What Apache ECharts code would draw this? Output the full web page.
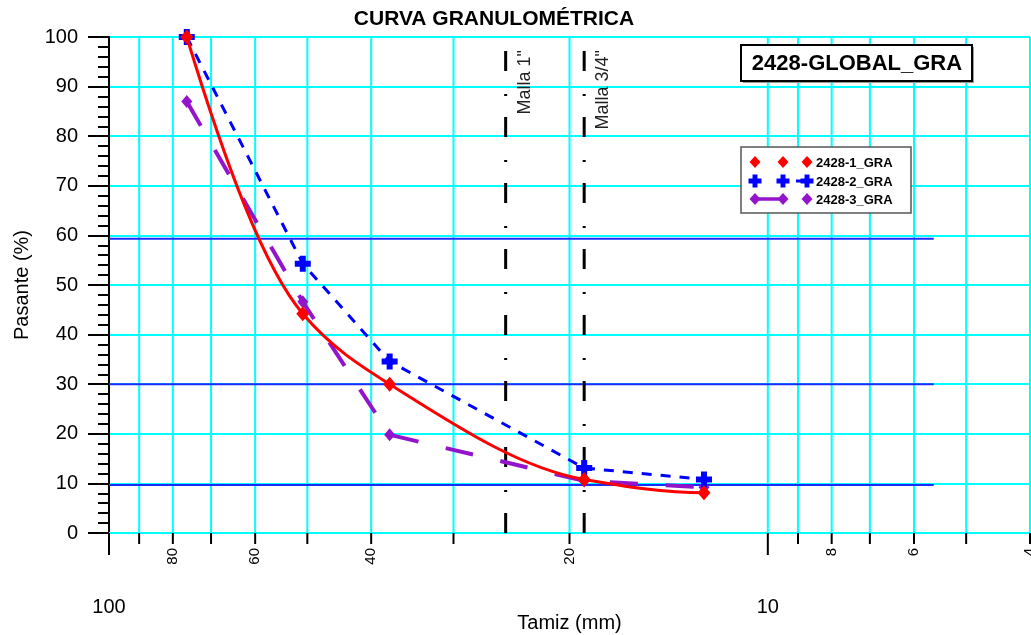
<!DOCTYPE html>
<html>
<head>
<meta charset="utf-8">
<script src="https://cdn.jsdelivr.net/npm/echarts@6/dist/echarts.min.js"></script>
<style>
  html, body { margin: 0; padding: 0; background: #ffffff; }
  #chart { width: 1031px; height: 635px; }
</style>
</head>
<body>
<div id="chart"></div>
<script>
// Sieve openings (mm) and percent passing for each sample
const sieveSizes = [76.2, 50.8, 37.5, 19.0, 12.5];
const passing1 = [100, 44.2, 30.0, 10.8, 8.1];
const passing2 = [100, 54.3, 34.6, 13.1, 10.8];
const passing3 = [87.0, 46.6, 19.8, 10.5, 9.2];
const seriesNames = ['2428-1_GRA', '2428-2_GRA', '2428-3_GRA'];

// Log axis decorations (mm)
const xGridValues = [90, 80, 70, 60, 50, 40, 30, 20, 10, 9, 8, 7, 6, 5, 4];
const xMajorTicks = [100, 10];
const xMinorTicks = [90, 80, 70, 60, 50, 40, 30, 20, 9, 8, 7, 6, 5, 4];
const xRotatedLabels = [80, 60, 40, 20, 8, 6, 4];
const xMajorLabels = [100, 10];

// Reference meshes (mm) and their captions
const meshSizes = [25.0, 19.0];
const meshLabels = ['Malla 1"', 'Malla 3/4"'];

// Horizontal reference levels (% passing) and their x span (mm)
const refLevels = [59.3, 30.0, 9.7];
const refSpan = [100, 5.6];

const FONT = '"Liberation Sans", Arial, sans-serif';
const RED = '#ff0000';
const BLUE = '#0000ff';
const PURPLE = '#9414cc';
const CYAN = '#00ffff';
const PLUS = 'path://M5,0H11V5H16V11H11V16H5V11H0V5H5Z';

const chart = echarts.init(document.getElementById('chart'), null, { renderer: 'canvas' });

function pairs(xs, ys) { return xs.map((x, i) => [x, ys[i]]); }
function onAxis(vals) { return vals.map(v => [v, 0]); }

// Shape-preserving piecewise cubic (PCHIP) through pixel points
function pchipPath(pts) {
  const n = pts.length;
  const h = [], s = [];
  for (let i = 0; i < n - 1; i++) {
    h.push(pts[i + 1][0] - pts[i][0]);
    s.push((pts[i + 1][1] - pts[i][1]) / h[i]);
  }
  const d = new Array(n).fill(0);
  for (let i = 1; i < n - 1; i++) {
    if (s[i - 1] * s[i] > 0) {
      const w1 = 2 * h[i] + h[i - 1], w2 = h[i] + 2 * h[i - 1];
      d[i] = (w1 + w2) / (w1 / s[i - 1] + w2 / s[i]);
    }
  }
  function endSlope(h0, h1, s0, s1) {
    let e = ((2 * h0 + h1) * s0 - h0 * s1) / (h0 + h1);
    if (Math.sign(e) !== Math.sign(s0)) e = 0;
    else if (Math.sign(s0) !== Math.sign(s1) && Math.abs(e) > Math.abs(3 * s0)) e = 3 * s0;
    return e;
  }
  d[0] = endSlope(h[0], h[1], s[0], s[1]);
  d[n - 1] = endSlope(h[n - 2], h[n - 3], s[n - 2], s[n - 3]);
  let p = 'M' + pts[0][0] + ',' + pts[0][1];
  for (let i = 0; i < n - 1; i++) {
    const dx = h[i] / 3;
    p += 'C' + (pts[i][0] + dx) + ',' + (pts[i][1] + dx * d[i]) + ',' +
         (pts[i + 1][0] - dx) + ',' + (pts[i + 1][1] - dx * d[i + 1]) + ',' +
         pts[i + 1][0] + ',' + pts[i + 1][1];
  }
  return p;
}
function curveRenderer(xs, ys, style) {
  return function (params, api) {
    if (params.dataIndex !== 0) return null;
    const pts = xs.map((x, i) => api.coord([x, ys[i]]));
    return { type: 'path', shape: { pathData: pchipPath(pts) },
             style: Object.assign({ fill: 'none' }, style) };
  };
}

function vGrid(params, api) {
  const v = api.value(0);
  const b = api.coord([v, 0]);
  const t = api.coord([v, 100]);
  return { type: 'line', shape: { x1: b[0], y1: b[1], x2: t[0], y2: t[1] },
           style: { stroke: CYAN, lineWidth: 2 } };
}
function tickRenderer(len) {
  return function (params, api) {
    const p = api.coord([api.value(0), 0]);
    return { type: 'line', shape: { x1: p[0], y1: p[1], x2: p[0], y2: p[1] + len },
             style: { stroke: '#000', lineWidth: 2 } };
  };
}
function rotatedLabel(params, api) {
  const v = api.value(0);
  const p = api.coord([v, 0]);
  return { type: 'text', x: p[0], y: p[1] + 15, rotation: Math.PI / 2,
           style: { text: String(v), font: '15px ' + FONT, fill: '#000', align: 'right', verticalAlign: 'middle' } };
}
function majorLabel(params, api) {
  const v = api.value(0);
  const p = api.coord([v, 0]);
  return { type: 'text', x: p[0], y: p[1] + 74,
           style: { text: String(v), font: '20px ' + FONT, fill: '#000', align: 'center', verticalAlign: 'middle' } };
}
function meshLine(params, api) {
  const v = api.value(0);
  const b = api.coord([v, 0]);
  const t = api.coord([v, 100]);
  return { type: 'group', children: [
    { type: 'line', shape: { x1: b[0], y1: b[1], x2: t[0], y2: t[1] },
      style: { stroke: '#000', lineWidth: 3, lineDash: [20, 21, 2, 23] } },
    { type: 'text', x: b[0] + 19, y: t[1] + 13, rotation: Math.PI / 2,
      style: { text: meshLabels[params.dataIndex], font: '18px ' + FONT, fill: '#222', align: 'right', verticalAlign: 'middle' } }
  ] };
}

const refSeries = refLevels.map(level => ({
  type: 'line', z: 2, silent: true, symbol: 'none',
  data: refSpan.map(x => [x, level]),
  lineStyle: { color: '#1a2cff', width: 2 }
}));

// Legend drawn as plain shapes
function diamond(cx, cy, w, h, color) {
  return { type: 'polygon', shape: { points: [[cx, cy - h / 2], [cx + w / 2, cy], [cx, cy + h / 2], [cx - w / 2, cy]] },
           style: { fill: color } };
}
function plus(cx, cy, sz, color) {
  const a = sz / 2, b = sz * 0.19;
  return { type: 'polygon', shape: { points: [
    [cx - b, cy - a], [cx + b, cy - a], [cx + b, cy - b], [cx + a, cy - b], [cx + a, cy + b], [cx + b, cy + b],
    [cx + b, cy + a], [cx - b, cy + a], [cx - b, cy + b], [cx - a, cy + b], [cx - a, cy - b], [cx - b, cy - b]] },
    style: { fill: color } };
}
const lgX = [755, 783, 807];
const lgY = [162, 181, 199];
const overlay = [
  { type: 'text', x: 494, y: 19, style: { text: 'CURVA GRANULOMÉTRICA', font: 'bold 21px ' + FONT, fill: '#000', align: 'center', verticalAlign: 'middle' } },
  { type: 'rect', shape: { x: 743, y: 47, width: 231, height: 36 }, style: { fill: '#9a9a9a' } },
  { type: 'rect', shape: { x: 741, y: 45, width: 231, height: 36 }, style: { fill: '#fff', stroke: '#000', lineWidth: 2 } },
  { type: 'text', x: 857, y: 64, style: { text: '2428-GLOBAL_GRA', font: 'bold 22px ' + FONT, fill: '#000', align: 'center', verticalAlign: 'middle' } },
  { type: 'rect', shape: { x: 741, y: 147, width: 170, height: 66 }, style: { fill: '#fff', stroke: '#555', lineWidth: 1.5 } },
  ...lgX.map(x => diamond(x, lgY[0], 11, 12, RED)),
  { type: 'line', shape: { x1: 796, y1: lgY[1], x2: 812, y2: lgY[1] }, style: { stroke: BLUE, lineWidth: 3 } },
  ...lgX.map(x => plus(x, lgY[1], 13, BLUE)),
  { type: 'line', shape: { x1: 755, y1: lgY[2], x2: 783, y2: lgY[2] }, style: { stroke: PURPLE, lineWidth: 3.5 } },
  ...lgX.map(x => diamond(x, lgY[2], 11, 12, PURPLE)),
  ...seriesNames.map((n, i) => ({ type: 'text', x: 816, y: lgY[i] + 1,
    style: { text: n, font: 'bold 13px ' + FONT, fill: '#000', align: 'left', verticalAlign: 'middle' } }))
].map(el => Object.assign({ z: 100 }, el));

chart.setOption({
  animation: false,
  backgroundColor: '#ffffff',
  grid: { left: 109, right: 1, top: 37, bottom: 102, outerBoundsMode: 'none' },
  xAxis: {
    type: 'log', logBase: 10, min: 4, max: 100, inverse: true,
    name: 'Tamiz (mm)', nameLocation: 'middle', nameGap: 80,
    nameTextStyle: { fontSize: 20, color: '#000', fontFamily: FONT },
    axisLine: { show: true, lineStyle: { color: CYAN, width: 2 } },
    axisTick: { show: false }, axisLabel: { show: false }, splitLine: { show: false }
  },
  yAxis: {
    type: 'value', min: 0, max: 100, interval: 10,
    name: 'Pasante (%)', nameLocation: 'middle', nameGap: 77,
    nameTextStyle: { fontSize: 20, color: '#000', fontFamily: FONT },
    axisLine: { show: true, lineStyle: { color: '#000', width: 2 } },
    axisTick: { show: true, length: 21, lineStyle: { color: '#000', width: 2 } },
    minorTick: { show: true, splitNumber: 5, length: 11, lineStyle: { color: '#000', width: 2 } },
    axisLabel: { fontSize: 20, color: '#000', margin: 31, fontFamily: FONT },
    splitLine: { show: true, lineStyle: { color: CYAN, width: 2 } }
  },
  graphic: overlay,
  series: [
    { type: 'custom', z: 1, silent: true, renderItem: vGrid, data: onAxis(xGridValues), encode: { x: 0, y: 1 } },
    { type: 'custom', z: 1, silent: true, renderItem: tickRenderer(22), data: onAxis(xMajorTicks), encode: { x: 0, y: 1 } },
    { type: 'custom', z: 1, silent: true, renderItem: tickRenderer(11), data: onAxis(xMinorTicks), encode: { x: 0, y: 1 } },
    { type: 'custom', z: 1, silent: true, renderItem: rotatedLabel, data: onAxis(xRotatedLabels), encode: { x: 0, y: 1 } },
    { type: 'custom', z: 1, silent: true, renderItem: majorLabel, data: onAxis(xMajorLabels), encode: { x: 0, y: 1 } },
    ...refSeries,
    { type: 'custom', z: 3, silent: true, renderItem: meshLine, data: onAxis(meshSizes), encode: { x: 0, y: 1 } },
    {
      name: seriesNames[2], type: 'line', z: 4, data: pairs(sieveSizes, passing3),
      symbol: 'diamond', symbolSize: [11, 13],
      itemStyle: { color: PURPLE },
      lineStyle: { color: PURPLE, width: 4, type: [28, 28] }
    },
    {
      name: seriesNames[1], type: 'line', z: 5, data: pairs(sieveSizes, passing2),
      symbol: PLUS, symbolSize: 16,
      itemStyle: { color: BLUE },
      lineStyle: { color: BLUE, width: 3, type: [10, 9] }
    },
    { type: 'custom', z: 7, silent: true, data: pairs(sieveSizes, passing1), encode: { x: 0, y: 1 },
      renderItem: curveRenderer(sieveSizes, passing1, { stroke: RED, lineWidth: 3 }) },
    { name: seriesNames[0], type: 'scatter', z: 8, data: pairs(sieveSizes, passing1),
      symbol: 'diamond', symbolSize: [13, 15], itemStyle: { color: RED, opacity: 1 } }
  ]
});
</script>
</body>
</html>
